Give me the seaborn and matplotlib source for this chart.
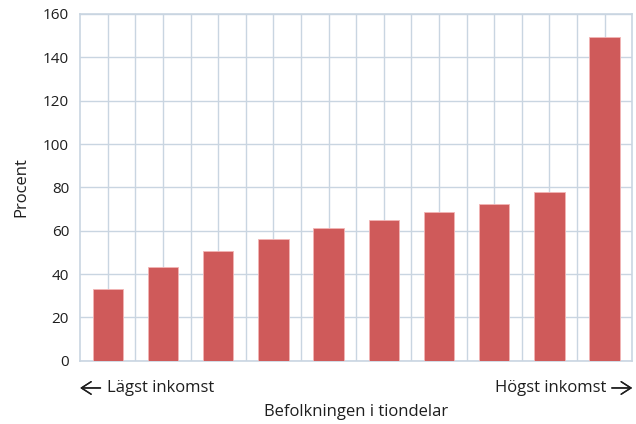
import numpy as np
import pandas as pd
import seaborn as sns
import matplotlib.pyplot as plt
from matplotlib.ticker import FixedLocator

# Andel per tiondel (procent)
deciles = [str(i) for i in range(1, 11)]
values = [33.3, 43.4, 50.7, 56.1, 61.4, 65.0, 68.8, 72.4, 77.8, 149.4]
yticks = [0, 20, 40, 60, 80, 100, 120, 140, 160]

df = pd.DataFrame({'decil': deciles, 'procent': values})

sns.set_style('white')
plt.rcParams['font.family'] = ['Open Sans', 'DejaVu Sans']

grid_col = '#c9d5e1'
txt_col = '#1e1e1e'
fig = plt.figure(figsize=(6.36, 4.24), dpi=100)
ax = fig.add_axes([0.126, 0.149, 0.868, 0.818])

sns.barplot(data=df, x='decil', y='procent', color='#cf5a5a', saturation=1,
            width=0.55, edgecolor='#f2b5b5', linewidth=0.6, ax=ax, zorder=3)

ax.set_ylim(0, 160)
ax.set_xlim(-0.5, 9.5)
ax.set_yticks(yticks)
ax.xaxis.set_minor_locator(FixedLocator(np.arange(0.5, 9.5, 1)))
ax.grid(axis='y', color=grid_col, linewidth=1, zorder=0)
ax.grid(axis='x', which='both', color=grid_col, linewidth=1, zorder=0)
ax.set_axisbelow(True)
ax.set_xticklabels([])
ax.tick_params(axis='x', which='both', length=0)
ax.tick_params(axis='y', length=0, labelsize=11, colors=txt_col, pad=8)
for s in ax.spines.values():
    s.set_color(grid_col)
    s.set_linewidth(1.2)

ax.set_xlabel('')
ax.set_ylabel('Procent', fontsize=12, color=txt_col, labelpad=10)

# pilar och texter under axeln
arrow = dict(arrowstyle='->,head_length=0.7,head_width=0.45', color=txt_col, lw=1.0,
             shrinkA=0, shrinkB=0)
fig.add_artist(plt.annotate('', xy=(0.126, 0.085), xytext=(0.158, 0.085),
                            xycoords='figure fraction', arrowprops=arrow))
fig.add_artist(plt.annotate('', xy=(0.994, 0.085), xytext=(0.962, 0.085),
                            xycoords='figure fraction', arrowprops=arrow))
fig.text(0.168, 0.085, 'Lägst inkomst', fontsize=12, color=txt_col,
         ha='left', va='center')
fig.text(0.953, 0.085, 'Högst inkomst', fontsize=12, color=txt_col,
         ha='right', va='center')
fig.text(0.56, 0.028, 'Befolkningen i tiondelar', fontsize=12, color=txt_col,
         ha='center', va='center')

fig.savefig('out.png', dpi=100)
